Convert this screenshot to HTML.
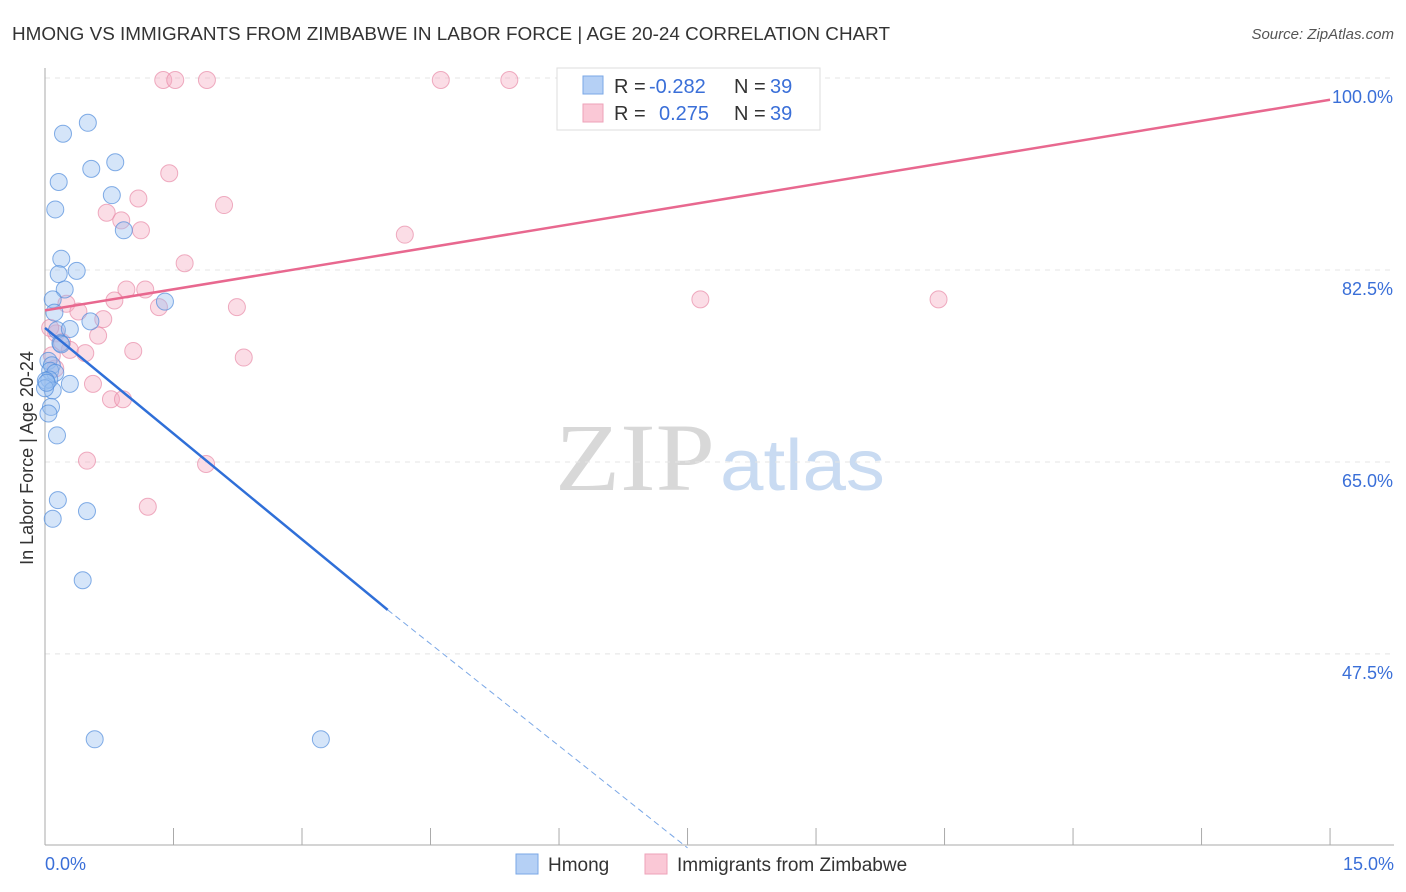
<!DOCTYPE html>
<html><head><meta charset="utf-8"><style>
body{margin:0;background:#fff;font-family:"Liberation Sans",sans-serif;}
#wrap{position:relative;width:1406px;height:892px;overflow:hidden}
</style></head><body>
<div id="wrap">
<svg id="svg" width="1406" height="892">
<text x="12" y="40" font-size="18" fill="#333" textLength="878" lengthAdjust="spacingAndGlyphs">HMONG VS IMMIGRANTS FROM ZIMBABWE IN LABOR FORCE | AGE 20-24 CORRELATION CHART</text>
<text x="1394" y="39" font-size="15" fill="#555" text-anchor="end" font-style="italic">Source: ZipAtlas.com</text>
<text x="33" y="458" font-size="18" fill="#333" text-anchor="middle" transform="rotate(-90 33 458)">In Labor Force | Age 20-24</text>
<g>
<text x="555" y="490" font-size="96" fill="#d8d8d8" font-family="Liberation Serif,serif" textLength="160" lengthAdjust="spacingAndGlyphs">ZIP</text>
<text x="720" y="490" font-size="72" fill="#c9dbf2" textLength="165" lengthAdjust="spacingAndGlyphs">atlas</text>
</g>
<g id="grid"></g><g id="pts"></g><g id="lines"></g>
<g>
<rect x="557" y="68" width="263" height="62" fill="#fff" stroke="#ddd"/>
<rect x="583" y="76" width="20" height="18" fill="#b5d0f5" stroke="#7aa7e6"/>
<rect x="583" y="104" width="20" height="18" fill="#fac8d6" stroke="#eea2b8"/>
<text x="614" y="93" font-size="20" fill="#333">R =</text>
<text x="649" y="93" font-size="20" fill="#3a6fd8">-0.282</text>
<text x="734" y="93" font-size="20" fill="#333">N =</text>
<text x="770" y="93" font-size="20" fill="#3a6fd8">39</text>
<text x="614" y="120" font-size="20" fill="#333">R =</text>
<text x="659" y="120" font-size="20" fill="#3a6fd8">0.275</text>
<text x="734" y="120" font-size="20" fill="#333">N =</text>
<text x="770" y="120" font-size="20" fill="#3a6fd8">39</text>
</g>
<g>
<rect x="516" y="854" width="22" height="20" fill="#b5d0f5" stroke="#7aa7e6"/>
<text x="548" y="871" font-size="19" fill="#333">Hmong</text>
<rect x="645" y="854" width="22" height="20" fill="#fac8d6" stroke="#eea2b8"/>
<text x="677" y="871" font-size="19" fill="#333">Immigrants from Zimbabwe</text>
</g>
</svg></div>
<script>
const yTicks=[100,82.5,65,47.5];
const xTickLabels=["0.0%","15.0%"];
const hmongX=[0.21,0.50,0.16,0.54,0.82,0.12,0.78,0.92,0.19,0.16,0.37,0.23,0.09,1.40,0.11,0.53,0.14,0.29,0.18,0.04,0.08,0.06,0.12,0.05,0.29,0.01,0.09,0.00,0.07,0.04,0.14,0.15,0.49,0.09,0.44,0.58,3.22,0.19,0.02];
const hmongY=[95.1,96.1,90.7,91.9,92.5,88.2,89.5,86.3,83.7,82.3,82.6,80.9,80.0,79.8,78.8,78.0,77.2,77.3,76.0,74.4,74.0,73.5,73.3,72.7,72.3,72.6,71.7,71.9,70.2,69.6,67.6,61.7,60.7,60.0,54.4,39.9,39.9,75.9,72.4];
const zimX=[1.38,1.52,1.89,4.62,5.42,1.45,1.09,2.09,0.72,0.89,1.12,4.20,1.63,7.65,10.43,1.17,0.95,0.81,0.25,1.33,2.24,0.39,0.68,0.13,0.62,0.20,0.29,1.03,0.47,0.08,2.32,0.12,0.56,0.77,0.91,0.49,1.88,1.20,0.06];
const zimY=[100,100,100,100,100,91.5,89.2,88.6,87.9,87.2,86.3,85.9,83.3,80.0,80.0,80.9,80.9,79.9,79.6,79.3,79.3,78.9,78.2,76.9,76.7,76.1,75.4,75.3,75.1,74.9,74.7,73.7,72.3,70.9,70.9,65.3,65.0,61.1,77.4];
const hmongFit=[[0,77.4],[4.0,51.7]], hmongDash=[[4.0,51.7],[7.5,30.0]];
const zimFit=[[0,79.0],[15,98.2]];
const X=v=>45+v*85.67, Y=v=>80+(100-v)*10.97;
const NS="http://www.w3.org/2000/svg";
function mk(t,a,p){const e=document.createElementNS(NS,t);for(const k in a)e.setAttribute(k,a[k]);p.appendChild(e);return e;}
const grid=document.getElementById('grid');
yTicks.forEach(v=>{
 const l=mk('line',{x1:45,x2:1394,y1:Y(v)-2,y2:Y(v)-2,stroke:'#e4e4e4','stroke-dasharray':'5,5'},grid);
 
 
 const t=mk('text',{x:1393,y:Y(v)+23,'font-size':18,fill:'#3a6fd8','text-anchor':'end'},grid);t.textContent=v.toFixed(1)+'%';
 
 
});
mk('line',{x1:45,x2:45,y1:68,y2:845,stroke:'#aaa'},grid);
mk('line',{x1:45,x2:1394,y1:845,y2:845,stroke:'#aaa'},grid);
for(let i=0;i<=10;i++){const x=X(i*1.5);mk('line',{x1:x,x2:x,y1:828,y2:845,stroke:'#aaa'},grid);}
[[0,45,'start'],[1,1394,'end']].forEach(([i,x,a])=>{const t=mk('text',{x:x,y:870,'font-size':18,fill:'#3a6fd8','text-anchor':a},grid);t.textContent=xTickLabels[i];
 
 });
const pts=document.getElementById('pts');
zimX.forEach((v,i)=>{const c=mk('circle',{cx:X(v),cy:Y(zimY[i]),r:8.5,fill:'rgba(246,170,192,0.4)',stroke:'rgba(232,140,168,0.7)'},pts);
 
 });
hmongX.forEach((v,i)=>{const c=mk('circle',{cx:X(v),cy:Y(hmongY[i]),r:8.5,fill:'rgba(150,190,240,0.4)',stroke:'rgba(80,140,220,0.7)'},pts);
 
 });
const ln=document.getElementById('lines');
let e=mk('line',{x1:X(zimFit[0][0]),y1:Y(zimFit[0][1]),x2:X(zimFit[1][0]),y2:Y(zimFit[1][1]),stroke:'#e8688f','stroke-width':2.5},ln);


e=mk('line',{x1:X(hmongFit[0][0]),y1:Y(hmongFit[0][1]),x2:X(hmongFit[1][0]),y2:Y(hmongFit[1][1]),stroke:'#2f6fd8','stroke-width':2.5},ln);


e=mk('line',{x1:X(hmongDash[0][0]),y1:Y(hmongDash[0][1]),x2:X(hmongDash[1][0]),y2:Y(hmongDash[1][1]),stroke:'#7aa7e6','stroke-width':1,'stroke-dasharray':'6,4'},ln);


</script>
</body></html>
